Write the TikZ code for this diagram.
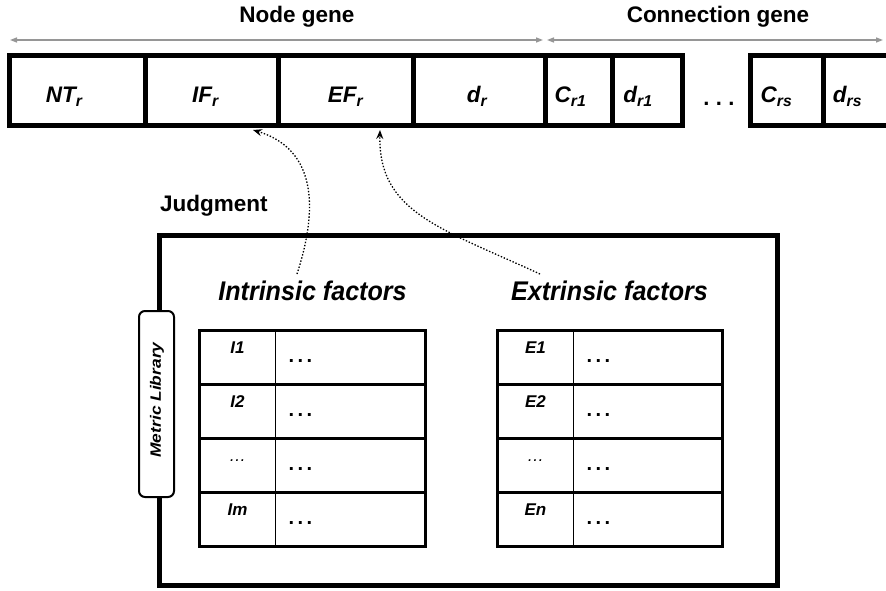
\documentclass[tikz,border=0pt]{standalone}
\usepackage{fontspec}
\setmainfont{Liberation Sans}
\usepackage{graphicx}
\usetikzlibrary{arrows.meta,calc}

\definecolor{spanline}{RGB}{150,150,150}

\tikzset{
  genetext/.style={font=\fontsize{22.5}{26}\selectfont\bfseries\itshape,
    text height=25pt, text depth=0pt, inner sep=0pt},
  genecell/.style={draw, line width=5pt, minimum height=70pt, inner sep=0pt,
    outer sep=0pt},
  headlabel/.style={font=\fontsize{22.5}{27}\selectfont\bfseries, inner sep=0pt},
  grouplabel/.style={font=\fontsize{27}{32}\selectfont\bfseries\itshape, inner sep=0pt},
  spanarrow/.style={draw=spanline, line width=1.4pt,
    {Triangle[length=7pt,width=5pt]}-{Triangle[length=7pt,width=5pt]}},
  linkarrow/.style={draw, line width=1.3pt, dash pattern=on 1.4pt off 1.8pt,
    -{Stealth[length=9pt,width=7pt,inset=3pt]}},
  tcell/.style={draw, line width=1.5pt, minimum height=54pt, inner sep=0pt, outer sep=0pt},
  keytext/.style={anchor=base, inner sep=0pt, font=\fontsize{17}{20}\selectfont\bfseries\itshape},
  valtext/.style={anchor=base west, inner sep=0pt, font=\fontsize{20}{23}\selectfont\bfseries},
  tframe/.style={draw, line width=3pt},
}

\newcommand{\valdots}{.\kern3.4pt.\kern3.4pt.}
\newcommand{\keydots}{{\mdseries\char"2026}}

\begin{document}
\begin{tikzpicture}[x=1pt,y=-1pt]
\useasboundingbox (0,0) rectangle (886,591);
\clip (0,0) rectangle (886,591);

% chromosome: node gene cells
\node[genecell, minimum width=135.5pt,
  label={[genetext, xshift=-13pt]center:NT\textsubscript{r}}] (NT) at (77.25,90.5) {};
\node[genecell, minimum width=133pt,
  label={[genetext, xshift=-6pt]center:IF\textsubscript{r}}] (IF) at (211.5,90.5) {};
\node[genecell, minimum width=135pt,
  label={[genetext]center:EF\textsubscript{r}}] (EF) at (345.5,90.5) {};
\node[genecell, minimum width=132pt,
  label={[genetext, xshift=-2pt]center:d\textsubscript{r}}] (dr) at (479,90.5) {};
% connection gene cells
\node[genecell, minimum width=67pt,
  label={[genetext, xshift=-8pt]center:C\textsubscript{r1}}] (Cr1) at (578.5,90.5) {};
\node[genecell, minimum width=70pt,
  label={[genetext, xshift=-9pt]center:d\textsubscript{r1}}] (dr1) at (647,90.5) {};
\node[font=\fontsize{22}{26}\selectfont\bfseries, anchor=base, inner sep=0pt]
  (gap) at (719,106) {.\kern6.4pt.\kern6.4pt.};
\node[genecell, minimum width=73pt,
  label={[genetext, xshift=-10pt]center:C\textsubscript{rs}}] (Crs) at (786.5,90.5) {};
\node[genecell, minimum width=77pt,
  label={[genetext, xshift=-14pt]center:d\textsubscript{rs}}] (drs) at (861.5,90.5) {};

% span arrows and their headings
\coordinate (ngL) at (10,40);
\coordinate (ngR) at (543,40);
\coordinate (cgL) at (547,40);
\coordinate (cgR) at (883,40);
\draw[spanarrow] (ngL) -- (ngR);
\draw[spanarrow] (cgL) -- (cgR);
\node[headlabel, anchor=base] (nodegene) at (297,23) {Node gene};
\node[headlabel, anchor=base] (conngene) at (718,23) {Connection gene};

% judgment frame
\node[headlabel, anchor=base west] (judgment) at (160,211) {Judgment};
\node[draw, line width=5pt, minimum width=618pt, minimum height=350pt,
  inner sep=0pt, outer sep=0pt] (frame) at (468.5,410.5) {};

% metric library tab on the frame's left side
\node[draw, fill=white, line width=2pt, rounded corners=6pt, minimum width=35pt,
  minimum height=186pt, inner sep=0pt] (metric) at (156.5,404) {};
\node[rotate=90, inner sep=0pt, font=\fontsize{15}{18}\selectfont\bfseries\itshape]
  (metrictext) at (157,400) {\scalebox{1.16}[1]{Metric Library}};

% group headings
\node[grouplabel, anchor=base] (intr) at (312.5,300) {\scalebox{0.93}[1]{Intrinsic factors}};
\node[grouplabel, anchor=base] (extr) at (609.5,300) {\scalebox{0.93}[1]{Extrinsic factors}};

% intrinsic factor table
\foreach \n/\lab/\y in {1/I1/357.5, 2/I2/411.5, 3/\keydots/465.5, 4/Im/519.5}{
  \node[tcell, minimum width=76pt]  (ik\n) at (237.5,\y) {};
  \node[tcell, minimum width=150pt] (iv\n) at (350.5,\y) {};
  \node[keytext] (ikt\n) at ($(ik\n.north)+(0,23)$) {\lab};
  \node[valtext] (ivt\n) at ($(iv\n.north west)+(13,31.5)$) {\valdots};
}
\draw[tframe] (ik1.north west) rectangle (iv4.south east);
\draw[tframe] (ik1.south west) -- (iv1.south east);
\draw[tframe] (ik2.south west) -- (iv2.south east);
\draw[tframe] (ik3.south west) -- (iv3.south east);

% extrinsic factor table
\foreach \n/\lab/\y in {1/E1/357.5, 2/E2/411.5, 3/\keydots/465.5, 4/En/519.5}{
  \node[tcell, minimum width=76pt]  (ek\n) at (535.5,\y) {};
  \node[tcell, minimum width=149pt] (ev\n) at (648,\y) {};
  \node[keytext] (ekt\n) at ($(ek\n.north)+(0,23)$) {\lab};
  \node[valtext] (evt\n) at ($(ev\n.north west)+(13,31.5)$) {\valdots};
}
\draw[tframe] (ek1.north west) rectangle (ev4.south east);
\draw[tframe] (ek1.south west) -- (ev1.south east);
\draw[tframe] (ek2.south west) -- (ev2.south east);
\draw[tframe] (ek3.south west) -- (ev3.south east);

% dotted links from the factor groups to their gene cells
\coordinate (intrtop) at (297,274);
\coordinate (extrtop) at (540,274);
\draw[linkarrow] (intrtop) .. controls (313,225) and (325,152) .. ($(IF.south)+(41.5,4.5)$);
\draw[linkarrow] (extrtop) .. controls (440,228) and (378,212) .. ($(EF.south)+(34.5,4.5)$);
\end{tikzpicture}
\end{document}
